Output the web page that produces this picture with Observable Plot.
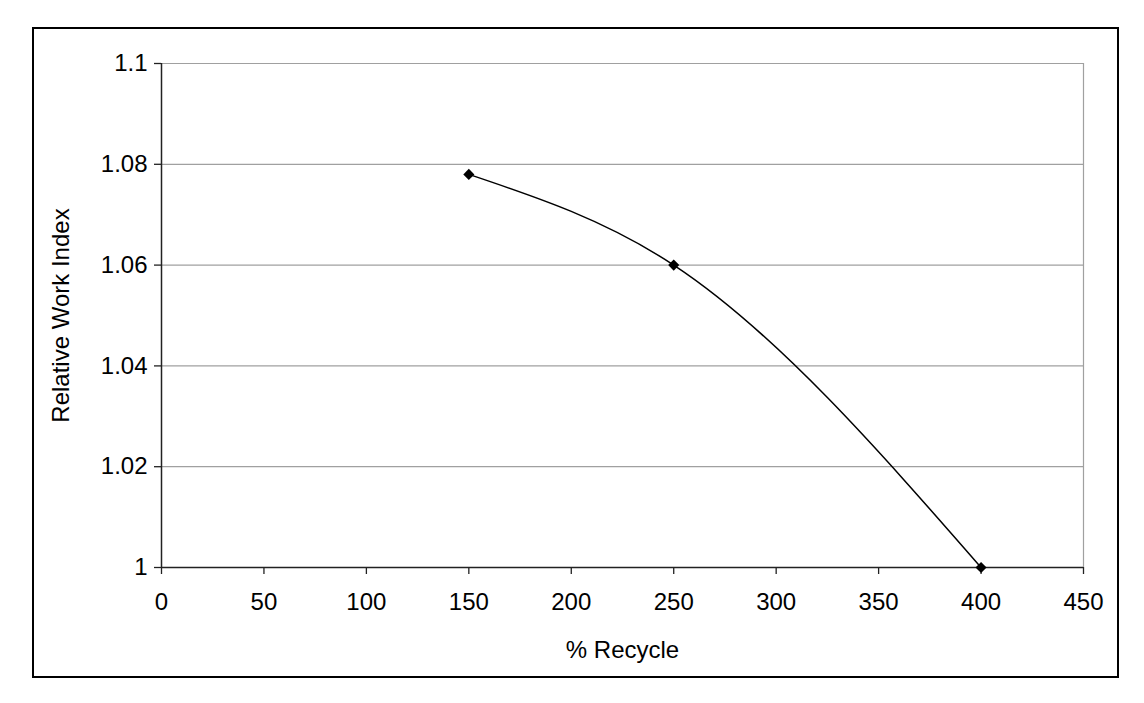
<!DOCTYPE html>
<html><head><meta charset="utf-8">
<script src="https://cdn.jsdelivr.net/npm/d3@7"></script>
<script src="https://cdn.jsdelivr.net/npm/@observablehq/plot@0.6"></script>
<style>
html,body{margin:0;padding:0;background:#fff;}
#wrap{position:relative;width:1144px;height:703px;}
#frame{position:absolute;left:32px;top:27px;width:1087px;height:651px;border:2px solid #000;pointer-events:none;box-sizing:border-box}
#wrap svg{position:absolute;left:0;top:0;}
</style></head><body><div id="wrap"><div id="frame"></div></div>
<script>
const recycle = [150, 250, 400];
const workIndex = [1.078, 1.06, 1.0];
const xTicks = [0, 50, 100, 150, 200, 250, 300, 350, 400, 450];
const yTicks = [1, 1.02, 1.04, 1.06, 1.08, 1.1];
const xLabel = "% Recycle";
const yLabel = "Relative Work Index";

const data = recycle.map((x, i) => ({x, y: workIndex[i]}));
const font = '"Liberation Sans", Arial, sans-serif';

const chart = Plot.plot({
  width: 1144, height: 703,
  marginLeft: 161, marginRight: 61, marginTop: 63, marginBottom: 136,
  style: {fontFamily: font, fontSize: "24px", color: "#000", background: "transparent"},
  x: {domain: [0, 450]},
  y: {domain: [1, 1.1]},
  marks: [
    Plot.ruleY(yTicks.filter(d => d > 1), {stroke: "#a0a0a0", strokeWidth: 1.2}),
    Plot.ruleX([450], {stroke: "#a0a0a0", strokeWidth: 1.2}),
    Plot.axisX({ticks: xTicks, tickSize: 7, tickPadding: 18, fontSize: 24, stroke: "#222", strokeWidth: 1.3,
      label: xLabel, labelAnchor: "center", labelOffset: 90, labelArrow: "none", tickFormat: d => String(d)}),
    Plot.axisY({ticks: yTicks, tickSize: 7, tickPadding: 7, fontSize: 24, stroke: "#222", strokeWidth: 1.3,
      label: yLabel, labelAnchor: "center", labelOffset: 110, labelArrow: "none", tickFormat: d => String(+d.toFixed(2))}),
    Plot.ruleY([1], {stroke: "#222", strokeWidth: 1.5}),
    Plot.ruleX([0], {stroke: "#222", strokeWidth: 1.5}),
    Plot.line(data, {x: "x", y: "y", curve: "monotone-x", stroke: "#000", strokeWidth: 1.5}),
    Plot.dot(data, {x: "x", y: "y", symbol: "diamond2", r: 5, fill: "#000", stroke: "none"})
  ]
});
document.getElementById("wrap").appendChild(chart);
</script>
</body></html>
